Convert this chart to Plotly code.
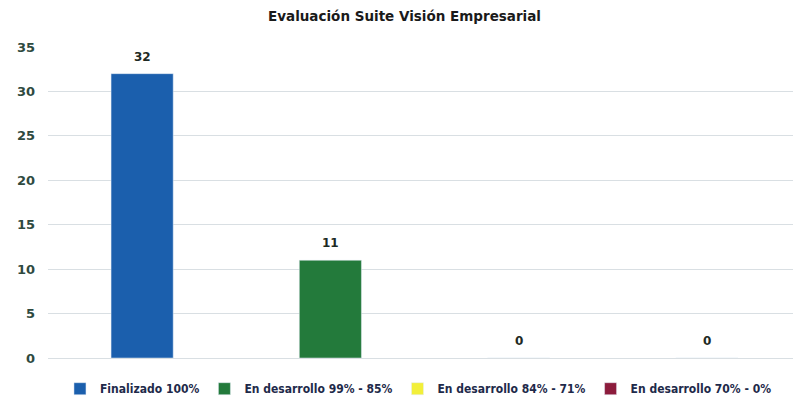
import plotly.graph_objects as go

series = ["Finalizado 100%", "En desarrollo 99% - 85%", "En desarrollo 84% - 71%", "En desarrollo 70% - 0%"]
values = [32, 11, 0, 0]
colors = ["#1b5fad", "#237a3b", "#f2ef3a", "#8c1c3c"]
y_ticks = [0, 5, 10, 15, 20, 25, 30, 35]

fig = go.Figure()
for s, v, c in zip(series, values, colors):
    fig.add_trace(go.Bar(
        x=[s], y=[v], name=s, marker_color=c, width=0.33,
    ))
    fig.add_annotation(x=s, y=v, text="<b>%d</b>" % v, showarrow=False, yshift=17,
                       font=dict(family="DejaVu Sans", size=12, color="#1e2a24"))

fig.update_layout(
    width=793, height=402,
    margin=dict(l=40, r=0, t=39, b=52),
    paper_bgcolor="white", plot_bgcolor="white",
    barmode="overlay",
    title=dict(text="<b>Evaluación Suite Visión Empresarial</b>", x=0.5, xanchor="center",
               y=0.99, yanchor="top",
               font=dict(family="DejaVu Sans", size=13.5, color="#1a1a1a")),
    xaxis=dict(showticklabels=False, showgrid=False, categoryorder="array", categoryarray=series,
               showline=True, linecolor="#d9dfe3", range=[-0.5, 3.5], automargin=False),
    yaxis=dict(range=[0, 35], tickvals=y_ticks, showgrid=True, gridcolor="#d9dfe3",
               zeroline=False, ticks="", ticklabelstandoff=12, automargin=False,
               tickfont=dict(family="DejaVu Sans", size=13, color="#2f4a3f", weight="bold")),
    legend=dict(orientation="h", x=0.492, xanchor="center", yref="container", y=0.053, yanchor="middle",
                font=dict(family="DejaVu Sans Condensed", size=12, color="#1e2a4a", weight="bold"),
                itemwidth=30, traceorder="normal"),
    showlegend=True,
)

fig.write_html("out.html")
